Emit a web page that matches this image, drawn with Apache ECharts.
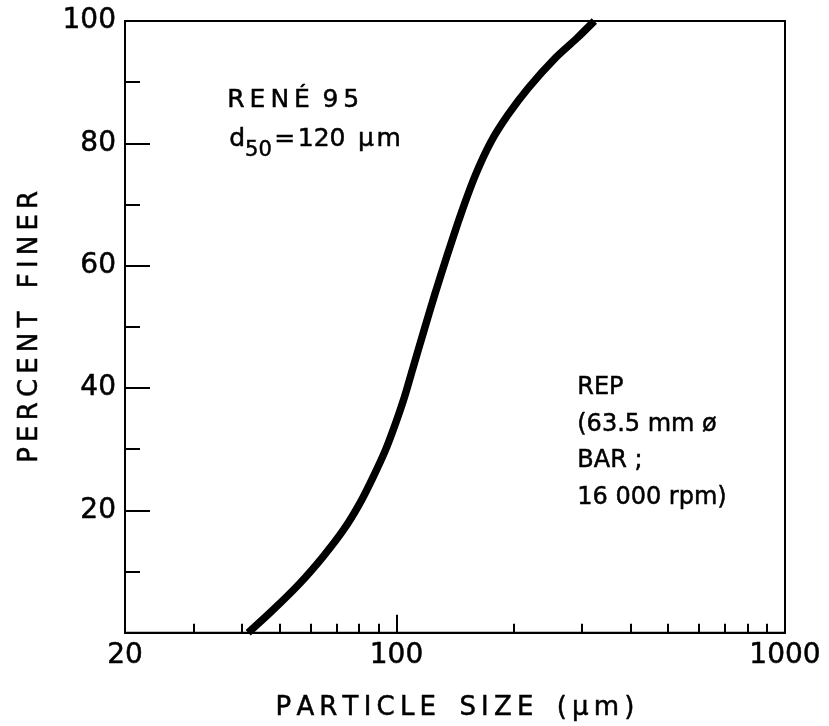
<!DOCTYPE html>
<html>
<head>
<meta charset="utf-8">
<script src="https://cdn.jsdelivr.net/npm/echarts@6/dist/echarts.min.js"></script>
<style>
  html, body { margin: 0; padding: 0; background: #fff; }
  #chart { width: 829px; height: 726px; }
</style>
</head>
<body>
<div id="chart"></div>
<script>
// particle size (um) vs cumulative percent finer
var sizes = [41.5, 48.2, 56.4, 64.8, 73.0, 80.5, 87.1, 93.7, 99.5, 104.9, 109.9, 117.8,
             125.3, 135.2, 146.2, 159.6, 175.2, 193.3, 218.0, 255.8, 291.5, 323];
var percentFiner = [0, 3.8, 8.1, 12.5, 16.8, 21.2, 25.5, 29.9, 34.3, 38.6, 43.0, 49.5,
                    55.2, 61.8, 68.3, 74.8, 80.3, 84.6, 89.0, 93.9, 97.2, 100];

var xLabelValues = [20, 100, 1000];
var xMinorTicks = [30, 40, 50, 60, 70, 80, 90, 200, 300, 400, 500, 600, 700, 800, 900];
var xMajorTicks = [100];

var ts = '\u2009'; // thin space, spreads the lettering
var wordGap = '\u2009\u2002\u2009';
function spread(s) { return s.split('').join(ts); }
function spreadWords(words) { return words.map(spread).join(wordGap); }

var chart = echarts.init(document.getElementById('chart'));
var font = 'DejaVu Sans';
var ink = { color: '#000', fontFamily: font, textBorderColor: '#000', textBorderWidth: 0.5 };

var points = [];
for (var i = 0; i < sizes.length; i++) {
    points.push([sizes[i], percentFiner[i]]);
}

var option = {
    backgroundColor: '#fff',
    textStyle: { fontFamily: font, color: '#000' },
    grid: {
        left: 125, top: 21, right: 44, bottom: 93,
        show: true, borderColor: '#000', borderWidth: 2
    },
    xAxis: [{
        type: 'log', logBase: 10, min: 20, max: 1000,
        axisLine: { lineStyle: { color: '#000', width: 2 } },
        axisTick: { inside: true, length: 9, customValues: xMinorTicks, lineStyle: { color: '#000', width: 2 } },
        axisLabel: Object.assign({
            customValues: xLabelValues, fontSize: 28, margin: 9,
            formatter: function (v) { return String(Math.round(v)); }
        }, ink),
        splitLine: { show: false },
        name: spreadWords(['PARTICLE', 'SIZE', '(\u03bcm)']),
        nameLocation: 'middle', nameGap: 62,
        nameTextStyle: Object.assign({ fontSize: 26 }, ink)
    }, {
        type: 'log', logBase: 10, min: 20, max: 1000, position: 'bottom',
        axisLine: { show: false },
        axisTick: { inside: true, length: 18, customValues: xMajorTicks, lineStyle: { color: '#000', width: 2 } },
        axisLabel: { show: false },
        splitLine: { show: false }
    }],
    yAxis: {
        type: 'value', min: 0, max: 100, interval: 20,
        axisLine: { show: true, lineStyle: { color: '#000', width: 2 } },
        axisTick: { show: true, inside: true, length: 25, lineStyle: { color: '#000', width: 2 } },
        minorTick: { show: true, splitNumber: 2, length: 15, lineStyle: { color: '#000', width: 2 } },
        axisLabel: Object.assign({
            fontSize: 28, margin: 9,
            formatter: function (v) { return v === 0 ? '' : String(v); }
        }, ink),
        splitLine: { show: false },
        name: spreadWords(['PERCENT', 'FINER']),
        nameLocation: 'middle', nameGap: 82, nameRotate: 90,
        nameTextStyle: Object.assign({ fontSize: 26 }, ink)
    },
    series: [{
        type: 'line',
        xAxisIndex: 0,
        data: points,
        smooth: 0.3,
        showSymbol: false,
        lineStyle: { color: '#000', width: 7.5 }
    }],
    graphic: [
        {
            type: 'text', left: 227, top: 88,
            style: {
                text: spread('REN\u00c9') + '\u2002' + spread('95'),
                fontSize: 25, fontFamily: font, fill: '#000', stroke: '#000', lineWidth: 0.5
            }
        },
        {
            type: 'text', left: 229, top: 127,
            style: {
                text: '{m|d}{s|50}{m|\u200a=\u200a120\u2002\u03bc\u200am}',
                fontFamily: font, fill: '#000', stroke: '#000', lineWidth: 0.5,
                rich: {
                    m: { fontSize: 25, fontFamily: font, verticalAlign: 'top', lineHeight: 30 },
                    s: { fontSize: 21, fontFamily: font, verticalAlign: 'bottom', lineHeight: 34 }
                }
            }
        },
        {
            type: 'text', left: 577, top: 370,
            style: {
                text: ['REP', '(63.5 mm \u00f8', 'BAR ;', '16 000 rpm)'].join('\n'),
                fontSize: 24, lineHeight: 36.5, fontFamily: font,
                fill: '#000', stroke: '#000', lineWidth: 0.5
            }
        }
    ]
};
chart.setOption(option);
</script>
</body>
</html>
